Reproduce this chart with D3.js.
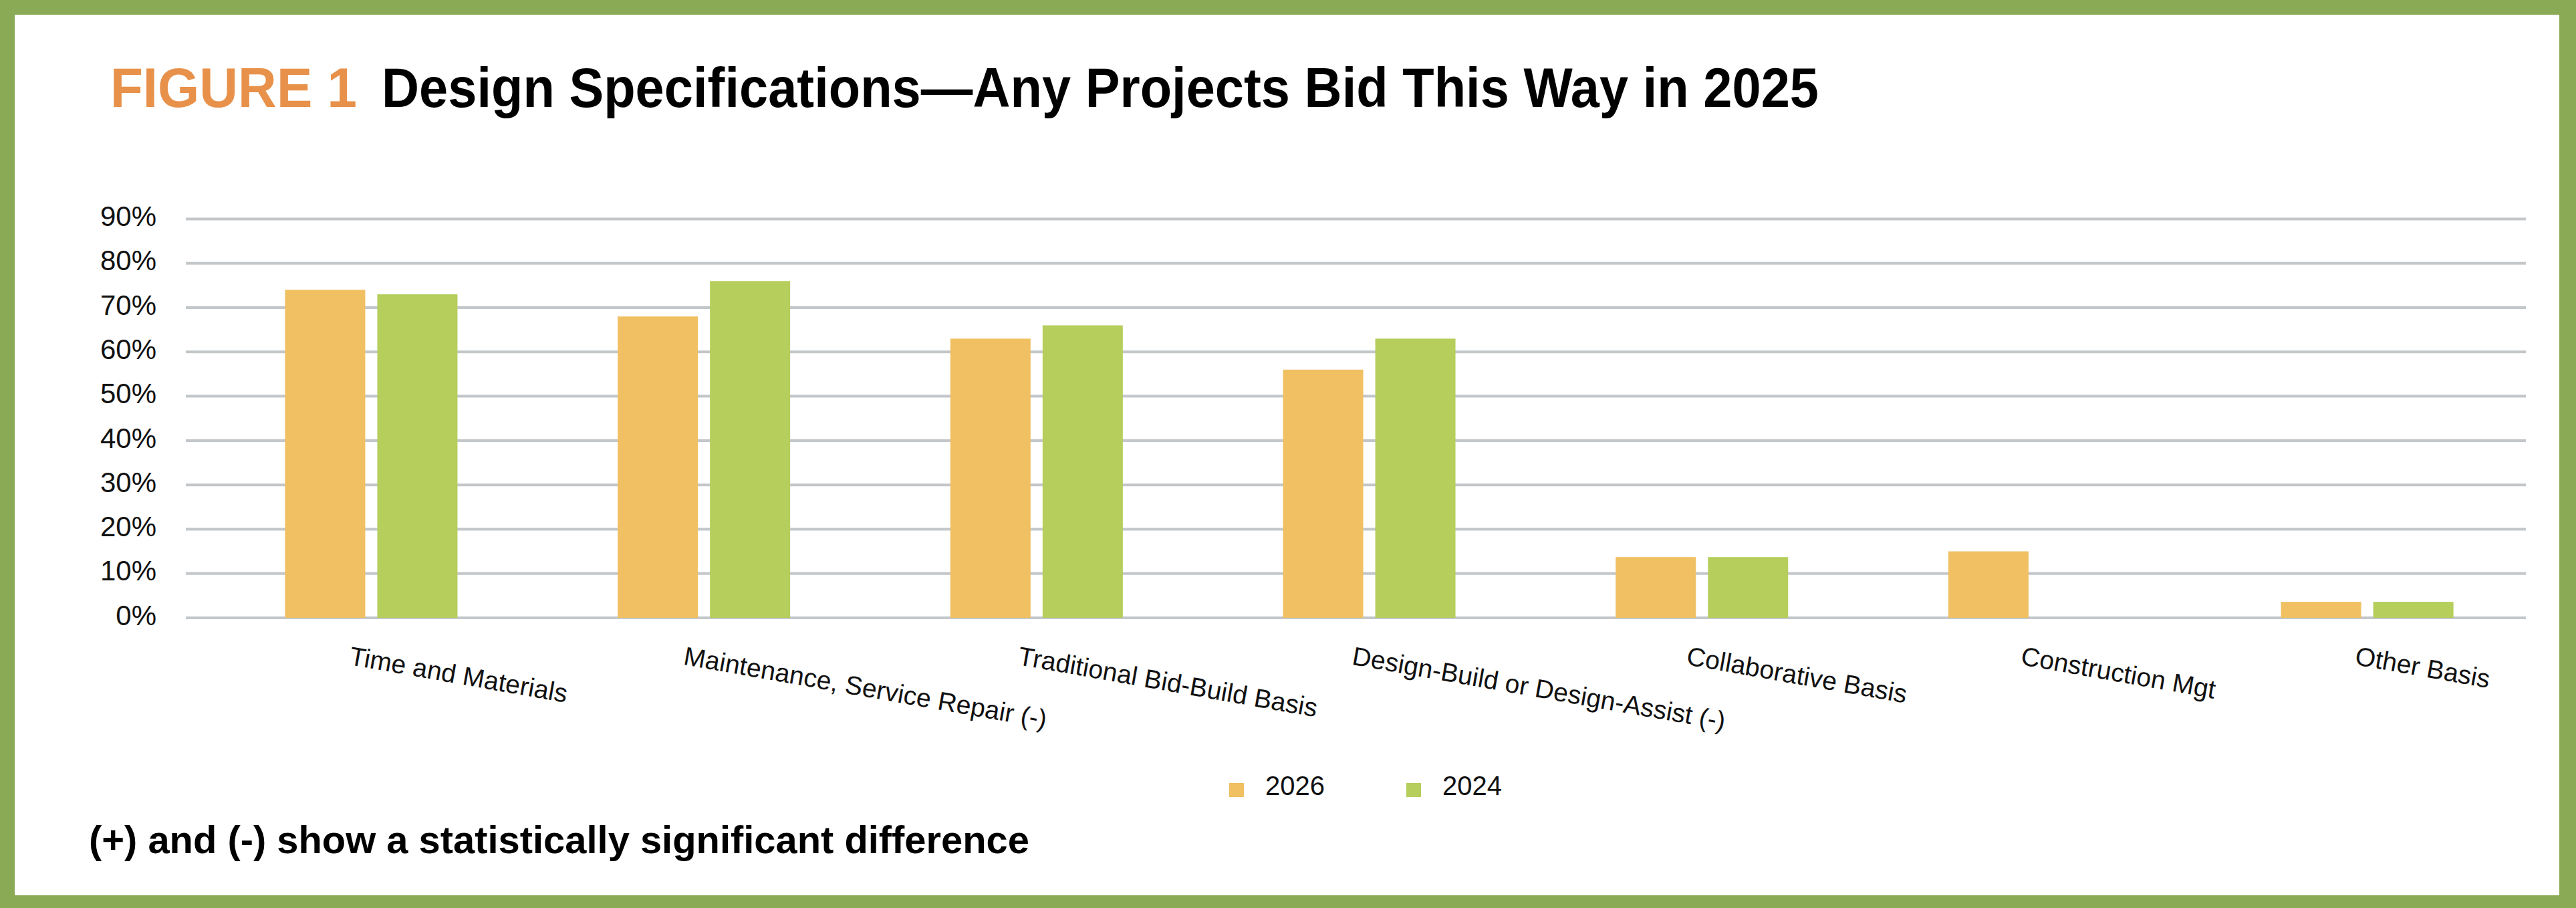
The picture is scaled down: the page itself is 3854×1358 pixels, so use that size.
<!-- Figure 1: design specifications, bar chart -->
<html>
<head><title>Figure 1 Design Specifications</title>
<script src="https://d3js.org/d3.v7.min.js"></script>
<style>
body { margin: 0; background: #8BAA56; }
svg { display: block; }
text { font-family: "Liberation Sans", Arial, Helvetica, sans-serif; }
</style>
</head>
<body>
<svg></svg>

<script>

// values (percent)
var categories = ["Time and Materials", "Maintenance, Service Repair (-)", "Traditional Bid-Build Basis",
                  "Design-Build or Design-Assist (-)", "Collaborative Basis", "Construction Mgt", "Other Basis"];
var seriesNames = ["2026", "2024"];
var values2026 = [74, 68, 63, 56, 13.7, 15, 3.6];
var values2024 = [73, 76, 66, 63, 13.7, null, 3.6];
var yTicks = [0, 10, 20, 30, 40, 50, 60, 70, 80, 90];

var colors = { "2026": "#F0C062", "2024": "#B5CE5C" };

var width = 3854;
var height = 1358;

var svg = d3.select('svg')
    .attr("width", width)
    .attr("height", height);

// green frame, white card
svg.append("rect")
    .attr("x", 0).attr("y", 0).attr("width", width).attr("height", height)
    .attr("fill", "#8BAA56");
svg.append("rect")
    .attr("x", 22).attr("y", 22).attr("width", width - 22 - 25).attr("height", height - 22 - 19)
    .attr("fill", "#ffffff");

// title
svg.append("text")
    .attr("x", 165).attr("y", 160)
    .attr("font-size", 84).attr("font-weight", "bold")
    .attr("fill", "#E8914A")
    .attr("textLength", 369).attr("lengthAdjust", "spacingAndGlyphs")
    .text("FIGURE 1");
svg.append("text")
    .attr("x", 571).attr("y", 160)
    .attr("font-size", 84).attr("font-weight", "bold")
    .attr("fill", "#000000")
    .attr("textLength", 2150).attr("lengthAdjust", "spacingAndGlyphs")
    .text("Design Specifications\u2014Any Projects Bid This Way in 2025");

// scales
var plotLeft = 278, plotRight = 3779;

var y = d3.scaleLinear()
    .domain([0, 90])
    .range([924, 327.5]);

// category band for gridlines / labels
var xCat = d3.scaleBand()
    .domain(categories)
    .range([plotLeft, plotRight]);

// bars sit on a slightly tighter band
var x0 = d3.scaleBand()
    .domain(categories)
    .range([306.6, 3790.5]);

var x1 = d3.scaleBand()
    .domain(seriesNames)
    .range([0, 258])
    .paddingInner(18 / 138);

// gridlines
svg.append("g")
    .selectAll("line")
    .data(yTicks)
  .enter().append("line")
    .attr("x1", plotLeft).attr("x2", plotRight)
    .attr("y1", function(d) { return y(d); })
    .attr("y2", function(d) { return y(d); })
    .attr("stroke", "#C3C7CA")
    .attr("stroke-width", 4);

// y tick labels
svg.append("g")
    .selectAll("text")
    .data(yTicks)
  .enter().append("text")
    .attr("x", 234)
    .attr("y", function(d) { return y(d) - 4; })
    .attr("dy", "0.35em")
    .attr("text-anchor", "end")
    .attr("font-size", 42)
    .attr("fill", "#111111")
    .text(function(d) { return d + "%"; });

// bars
var rows = [];
categories.forEach(function(c, i) {
    rows.push({ cat: c, series: "2026", value: values2026[i] });
    rows.push({ cat: c, series: "2024", value: values2024[i] });
});
var groupOffset = (x0.bandwidth() - 258) / 2;

svg.append("g")
    .selectAll("rect")
    .data(rows.filter(function(d) { return d.value != null; }))
  .enter().append("rect")
    .attr("x", function(d) { return x0(d.cat) + groupOffset + x1(d.series); })
    .attr("y", function(d) { return y(d.value); })
    .attr("width", x1.bandwidth())
    .attr("height", function(d) { return y(0) - y(d.value); })
    .attr("fill", function(d) { return colors[d.series]; });

// category labels, tilted
svg.append("g")
    .selectAll("text")
    .data(categories)
  .enter().append("text")
    .attr("transform", function(d) { return "translate(" + (xCat(d) + xCat.bandwidth() / 2 - 2) + ",966) rotate(10)"; })
    .attr("dy", "0.72em")
    .attr("text-anchor", "start")
    .attr("font-size", 39)
    .attr("fill", "#111111")
    .text(function(d) { return d; });

// legend
var legendX = { "2026": 1839, "2024": 2104 };
var legend = svg.append("g");
legend.selectAll("rect")
    .data(seriesNames)
  .enter().append("rect")
    .attr("x", function(d) { return legendX[d]; })
    .attr("y", 1171)
    .attr("width", 22).attr("height", 21)
    .attr("fill", function(d) { return colors[d]; });
legend.selectAll("text")
    .data(seriesNames)
  .enter().append("text")
    .attr("x", function(d) { return legendX[d] + 54; })
    .attr("y", 1189)
    .attr("font-size", 40)
    .attr("fill", "#111111")
    .text(function(d) { return d; });

// footnote
svg.append("text")
    .attr("x", 133).attr("y", 1276)
    .attr("font-size", 57).attr("font-weight", "bold")
    .attr("fill", "#000000")
    .attr("textLength", 1407).attr("lengthAdjust", "spacingAndGlyphs")
    .text("(+) and (-) show a statistically significant difference");

</script>
</body>
</html>
